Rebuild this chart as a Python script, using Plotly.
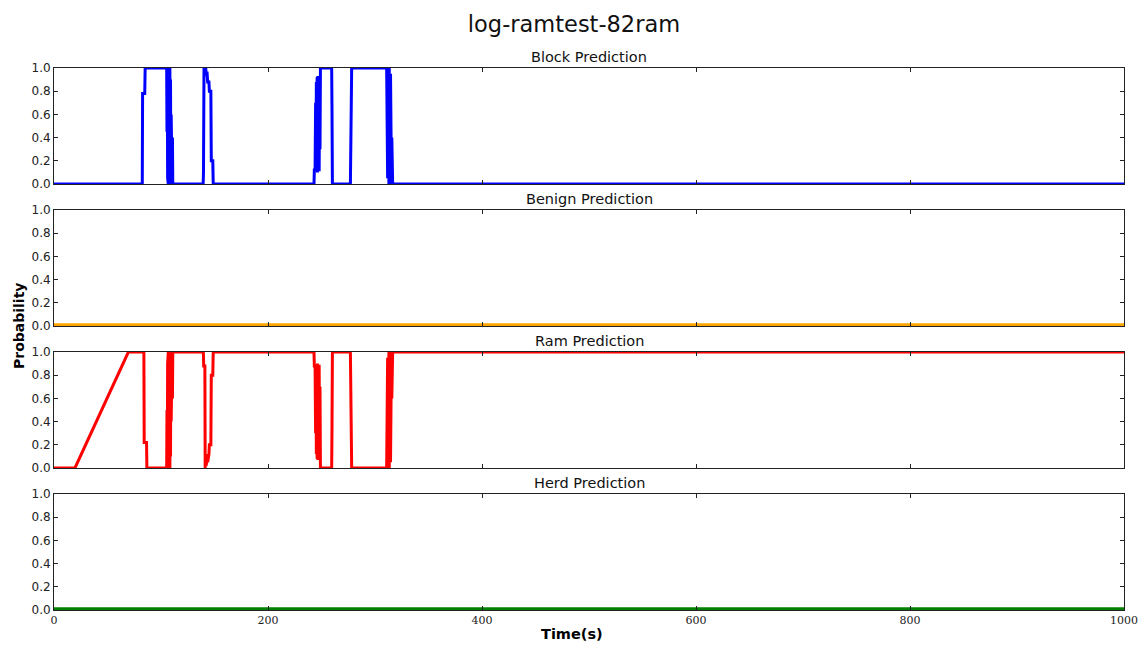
import plotly.graph_objects as go

# ---- data -----------------------------------------------------------------
title = "log-ramtest-82ram"
panel_names = ["Block Prediction", "Benign Prediction", "Ram Prediction", "Herd Prediction"]
panel_colors = ["#0000ff", "#ffa500", "#ff0000", "#008000"]

block_t = [0, 82.5, 82.8, 84.8, 85.2, 105.3,
           105.6, 105.9, 106.2, 106.5, 106.8, 107.1, 107.4, 107.7, 108.0, 108.3,
           108.6, 108.9, 109.2, 109.5, 109.8, 110.1, 110.4, 110.7, 111.0,
           139.4, 139.7, 140.2, 141.0, 141.3, 141.8, 142.3, 143.0, 143.6, 144.8,
           145.2, 146.6, 147.0, 148.4, 148.8,
           243.0, 243.3, 244.0, 244.5, 244.8, 245.2, 245.5, 245.9, 246.2, 246.6,
           247.0, 247.4, 247.8, 248.2, 248.6, 249.0, 259.5, 259.8, 260.2,
           277.0, 277.3, 277.9, 278.2, 310.9,
           311.2, 311.5, 311.8, 312.1, 312.4, 312.7, 313.0, 313.3, 313.6, 313.9,
           314.2, 314.5, 314.8, 315.1, 315.4, 315.7, 316.0, 316.5, 1000]
block_p = [0, 0, 0.78, 0.78, 1.0, 1.0,
           0.45, 1.0, 0.05, 1.0, 0.0, 1.0, 0.0, 0.95, 0.0, 1.0,
           0.0, 0.9, 0.0, 0.6, 0.0, 0.55, 0.0, 0.4, 0.0,
           0.0, 0.1, 1.0, 1.0, 0.93, 1.0, 0.93, 0.97, 0.88, 0.88,
           0.8, 0.8, 0.2, 0.2, 0.0,
           0.0, 0.12, 0.12, 0.7, 0.15, 0.88, 0.12, 0.92, 0.10, 0.93,
           0.13, 0.90, 0.11, 0.93, 0.3, 1.0, 1.0, 0.65, 0.0,
           0.0, 0.47, 0.47, 1.0, 1.0,
           0.3, 1.0, 0.05, 1.0, 0.0, 1.0, 0.0, 1.0, 0.0, 1.0,
           0.0, 0.95, 0.0, 0.9, 0.0, 0.4, 0.0, 0.0, 0.0]

benign_t = [0, 1000]
benign_p = [0.01, 0.01]

ram_t = [0, 19.6, 69.5, 84.0, 84.3, 86.5, 86.8, 105.3,
         105.6, 105.9, 106.2, 106.5, 106.8, 107.1, 107.4, 107.7, 108.0, 108.3,
         108.6, 108.9, 109.2, 109.5, 109.8, 110.1, 110.4, 110.7, 111.0,
         139.6, 139.9, 141.0, 141.3, 141.8, 142.3, 143.0, 143.6, 144.8,
         145.2, 146.6, 147.0, 148.4, 148.8,
         243.0, 243.3, 244.0, 244.5, 244.8, 245.2, 245.5, 245.9, 246.2, 246.6,
         247.0, 247.4, 247.8, 248.2, 248.6, 249.0, 259.5, 259.8, 260.2,
         277.0, 277.3, 277.9, 278.2, 310.9,
         311.2, 311.5, 311.8, 312.1, 312.4, 312.7, 313.0, 313.3, 313.6, 313.9,
         314.2, 314.5, 314.8, 315.1, 315.4, 315.7, 316.0, 316.5, 1000]
ram_p = [0, 0, 1.0, 1.0, 0.22, 0.22, 0.0, 0.0,
         0.5, 0.0, 0.9, 0.0, 1.0, 0.0, 1.0, 0.05, 1.0, 0.0,
         1.0, 0.1, 1.0, 0.4, 1.0, 0.45, 1.0, 0.6, 1.0,
         1.0, 0.88, 0.88, 0.0, 0.1, 0.02, 0.12, 0.05, 0.12,
         0.2, 0.2, 0.8, 0.8, 1.0,
         1.0, 0.88, 0.88, 0.3, 0.85, 0.12, 0.88, 0.08, 0.9, 0.07,
         0.87, 0.1, 0.89, 0.07, 0.7, 0.0, 0.0, 0.35, 1.0,
         1.0, 0.53, 0.53, 0.0, 0.0,
         0.7, 0.0, 0.95, 0.0, 1.0, 0.0, 1.0, 0.0, 1.0, 0.0,
         1.0, 0.05, 1.0, 0.1, 1.0, 0.6, 1.0, 1.0, 1.0]

herd_t = [0, 1000]
herd_p = [0.01, 0.01]

y_ticks = [0.0, 0.2, 0.4, 0.6, 0.8, 1.0]
x_ticks = [0, 200, 400, 600, 800, 1000]

series = [(block_t, block_p), (benign_t, benign_p), (ram_t, ram_p), (herd_t, herd_p)]

# ---- layout geometry ------------------------------------------------------
W, H = 1139, 645
ml, mr, mt, mb = 54, 15, 68, 35
pw, ph = W - ml - mr, H - mt - mb
panel_px = [(68, 184), (210, 326), (352, 468), (494, 610)]
domains = [((H - mb - b) / ph, (H - mb - t) / ph) for t, b in panel_px]

fig = go.Figure()
for i, ((t, p), c) in enumerate(zip(series, panel_colors)):
    n = "" if i == 0 else str(i + 1)
    fig.add_trace(go.Scatter(x=t, y=p, mode="lines", xaxis="x" + n, yaxis="y" + n,
                             line=dict(color=c, width=3), hoverinfo="skip",
                             showlegend=False))
    common = dict(showline=True, linecolor="#222", linewidth=1, mirror="ticks",
                  ticks="inside", ticklen=4, tickcolor="#222", showgrid=False,
                  zeroline=False, automargin=False)
    fig.layout["xaxis" + n] = dict(
        domain=[0, 1], anchor="y" + n, range=[0, 1000], tickvals=x_ticks,
        showticklabels=(i == 3),
        tickfont=dict(family="DejaVu Serif", size=11, color="#222"),
        matches=None if i == 0 else "x", **common)
    fig.layout["yaxis" + n] = dict(
        domain=list(domains[i]), anchor="x" + n, range=[0, 1], tickvals=y_ticks,
        tickformat=".1f", tickfont=dict(family="DejaVu Sans", size=12, color="#222"),
        **common)
    fig.add_annotation(text=panel_names[i], xref="paper", yref="paper", x=0.5,
                       y=domains[i][1], yanchor="bottom", yshift=1, showarrow=False,
                       font=dict(family="DejaVu Sans", size=14.5, color="#111"))

fig.add_annotation(text="<b>Time(s)</b>", xref="paper", yref="paper",
                   x=(572 - ml) / pw, xanchor="center", y=0,
                   yshift=-34, yanchor="bottom", showarrow=False,
                   font=dict(family="DejaVu Sans", size=14.5, color="#000"))
fig.add_annotation(text="<b>Probability</b>", xref="paper", yref="paper", x=0,
                   xanchor="center", xshift=-35, y=(H - mb - 326) / ph,
                   yanchor="middle", textangle=-90, showarrow=False,
                   font=dict(family="DejaVu Sans", size=14, color="#000"))

fig.update_layout(
    width=W, height=H,
    margin=dict(l=ml, r=mr, t=mt, b=mb, autoexpand=False),
    paper_bgcolor="white", plot_bgcolor="white",
    title=dict(text=title, x=574 / W, xref="container", xanchor="center",
               y=1 - 24 / H, yanchor="middle",
               font=dict(family="DejaVu Sans", size=22.5, color="#111")),
)

fig.write_html("out.html", config={"displayModeBar": False})
